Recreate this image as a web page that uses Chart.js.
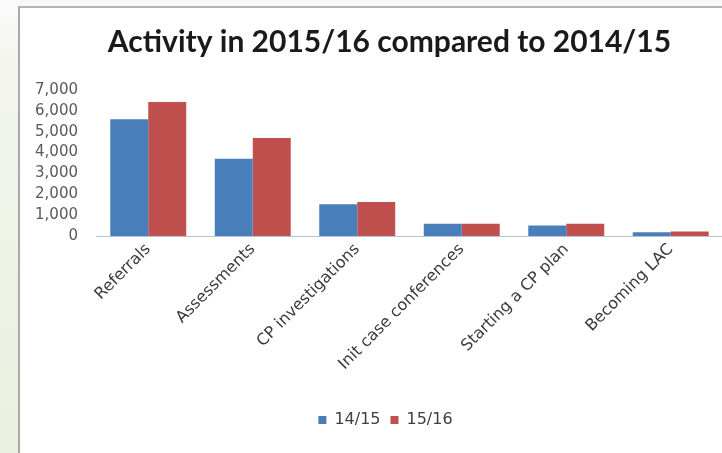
<!DOCTYPE html>
<html>
<head>
<meta charset="utf-8">
<script src="https://cdn.jsdelivr.net/npm/chart.js@4/dist/chart.umd.min.js"></script>
<style>
  html, body { margin: 0; padding: 0; width: 722px; height: 453px; overflow: hidden; background: #f8f8f8; }
  #leftStrip { position: absolute; left: 0; top: 0; width: 18px; height: 453px;
    background: linear-gradient(#fbfbfb 0px, #f3f5ee 60px, #eaf0df 453px); }
  #panel { position: absolute; left: 18px; top: 6px; width: 730px; height: 460px;
    border-left: 2px solid #a9a9a9; border-top: 2px solid #b4b4b4; background: #ffffff; }
  #wrap { position: absolute; left: 0; top: 0; width: 724px; height: 445px; }
</style>
</head>
<body>
<div id="leftStrip"></div>
<div id="panel"><div id="wrap"><canvas id="c" width="724" height="445"></canvas></div></div>
<script>
const categories = ["Referrals", "Assessments", "CP investigations", "Init case conferences", "Starting a CP plan", "Becoming LAC"];
const series1415 = [5600, 3700, 1520, 590, 500, 185];
const series1516 = [6430, 4700, 1630, 590, 590, 220];
const seriesNames = ["14/15", "15/16"];
const titleText = "Activity in 2015/16 compared to 2014/15";
const yMax = 7000;
const yStep = 1000;

// The original chart was wider than the visible crop: nudge title & legend to its centre.
const recentre = {
  id: 'recentre',
  afterLayout(chart) {
    if (chart.titleBlock) { chart.titleBlock.left += 18; chart.titleBlock.right += 18; }
    if (chart.legend) { chart.legend.left += 14; chart.legend.right += 14; }
  }
};

new Chart(document.getElementById('c'), {
  type: 'bar',
  data: {
    labels: categories,
    datasets: [
      { label: seriesNames[0], data: series1415, backgroundColor: '#4A7EBB', borderWidth: 0 },
      { label: seriesNames[1], data: series1516, backgroundColor: '#C0504D', borderWidth: 0 }
    ]
  },
  plugins: [recentre],
  options: {
    responsive: false,
    animation: false,
    devicePixelRatio: 1,
    layout: { padding: { left: 0, right: 21, top: 0, bottom: 15 } },
    datasets: { bar: { categoryPercentage: 0.727, barPercentage: 1.0 } },
    plugins: {
      title: {
        display: true, text: titleText, color: '#1a1a1a',
        font: { family: 'Lato', size: 30, weight: 'bold' },
        padding: { top: 16, bottom: 30 }
      },
      legend: {
        display: true, position: 'bottom',
        labels: { color: '#404040', font: { family: 'DejaVu Sans', size: 16 }, boxWidth: 8, boxHeight: 8, padding: 10 }
      },
      tooltip: { enabled: false }
    },
    scales: {
      x: {
        grid: { display: false, drawTicks: false },
        border: { display: true, color: '#b8c4d2', width: 1 },
        ticks: { color: '#3a3a3a', font: { family: 'DejaVu Sans', size: 16 }, maxRotation: 45, minRotation: 45, padding: 4, autoSkip: false },
        afterFit: (s) => { s.height = 166; }
      },
      y: {
        min: 0, max: yMax,
        grid: { display: false, drawTicks: false },
        border: { display: false },
        ticks: { stepSize: yStep, autoSkip: false, color: '#595959', font: { family: 'DejaVu Sans', size: 15 }, padding: 18,
          callback: (v) => v.toLocaleString('en-US') },
        afterFit: (s) => { s.width = 76; }
      }
    }
  }
});
</script>
</body>
</html>
